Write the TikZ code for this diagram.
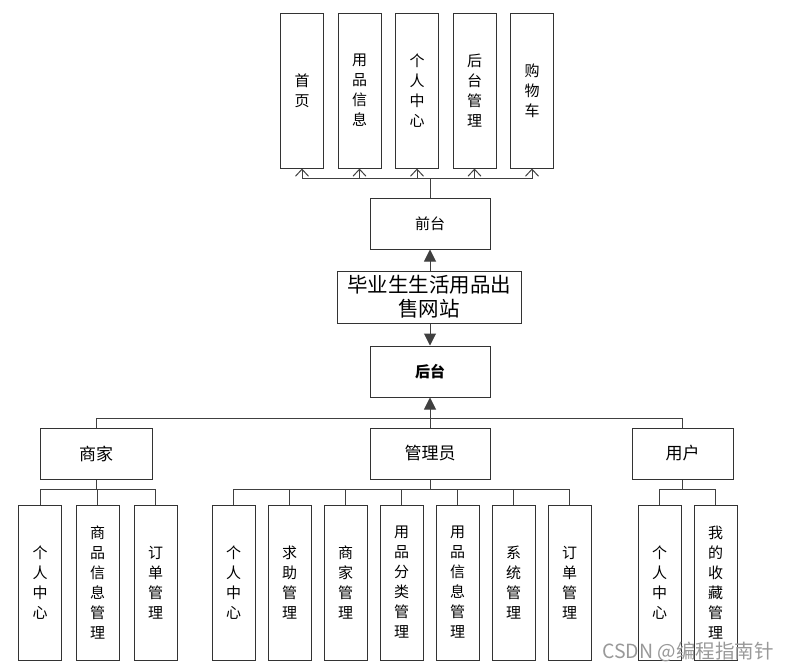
\documentclass[tikz,border=0pt]{standalone}
\usepackage{fontspec}
\setmainfont{Noto Sans CJK SC}
\usetikzlibrary{positioning,arrows.meta}

\begin{document}
\begin{tikzpicture}[x=1pt,y=-1pt,line width=1pt,draw=black!75,
                    every node/.style={font=\fontsize{15}{20}\selectfont},
                    box/.style={draw=black!80,minimum width=120pt,minimum height=51pt},
                    role/.style={box,font=\fontsize{17}{20}\selectfont},
                    col/.style={draw=black!80,minimum width=43pt,minimum height=155pt,
                                align=center,inner sep=1pt}]
  \useasboundingbox (0,0) rectangle (788,670);

  % front end
  \node[col] (home) at (302,90.5) {首\\页};
  \node[col] (goods) at (359.5,90.5) {用\\品\\信\\息};
  \node[col] (center) at (417,90.5) {个\\人\\中\\心};
  \node[col] (admin) at (474.5,90.5) {后\\台\\管\\理};
  \node[col] (cart) at (532,90.5) {购\\物\\车};
  \node[box] (front) at (430,223.5) {前台};

  % site and back end
  \node[draw=black!80,minimum width=184pt,minimum height=52pt,align=center,
        font=\fontsize{20.5}{24}\selectfont] (site) at (429,297) {毕业生生活用品出\\售网站};
  \node[box,font=\bfseries\fontsize{15}{20}\selectfont] (back) at (430,371.5) {后台};

  % roles
  \node[role,minimum width=112pt] (shop) at (96,453.5) {商家};
  \node[role] (manager) at (430,453.5) {管理员};
  \node[role,minimum width=101pt] (user) at (682.5,453.5) {用户};

  % shop
  \node[col] (s1) at (40,582.5) {个\\人\\中\\心};
  \node[col] (s2) at (97.5,582.5) {商\\品\\信\\息\\管\\理};
  \node[col] (s3) at (155.5,582.5) {订\\单\\管\\理};

  % manager
  \node[col] (m1) at (233.5,582.5) {个\\人\\中\\心};
  \node[col] (m2) at (289.5,582.5) {求\\助\\管\\理};
  \node[col] (m3) at (345.5,582.5) {商\\家\\管\\理};
  \node[col] (m4) at (401.5,582.5) {用\\品\\分\\类\\管\\理};
  \node[col] (m5) at (457.5,582.5) {用\\品\\信\\息\\管\\理};
  \node[col] (m6) at (513.5,582.5) {系\\统\\管\\理};
  \node[col] (m7) at (569.5,582.5) {订\\单\\管\\理};

  % user
  \node[col] (u1) at (659.5,582.5) {个\\人\\中\\心};
  \node[col] (u2) at (715.5,582.5) {我\\的\\收\\藏\\管\\理};

  % connectors
  \coordinate (fbar) at (430,178);
  \draw (front.north) -- (fbar);
  \foreach \n in {home,goods,center,admin,cart}
    \draw[-{Straight Barb[length=7pt,width=13pt]}] (fbar) -| (\n.south);

  \draw[-{Triangle[length=12pt,width=12pt]}] (site.north -| front) -- (front.south);
  \draw[-{Triangle[length=12pt,width=12pt]}] (site.south -| back) -- (back.north);

  \coordinate (rbar) at (430,418);
  \draw[-{Triangle[length=12pt,width=12pt]}] (rbar) -- (back.south);
  \foreach \n in {shop,manager,user}
    \draw (rbar) -| (\n.north);

  \coordinate (sbar) at (96,489);
  \draw (shop.south) -- (sbar);
  \foreach \n in {s1,s2,s3}
    \draw (sbar) -| (\n.north);

  \coordinate (mbar) at (430,489);
  \draw (manager.south) -- (mbar);
  \foreach \n in {m1,m2,m3,m4,m5,m6,m7}
    \draw (mbar) -| (\n.north);

  \coordinate (ubar) at (682.5,489);
  \draw (user.south) -- (ubar);
  \foreach \n in {u1,u2}
    \draw (ubar) -| (\n.north);

  \node[text=black!40,font=\fontsize{19.5}{22}\selectfont] (mark) at (688,652) {CSDN @编程指南针};
\end{tikzpicture}
\end{document}
